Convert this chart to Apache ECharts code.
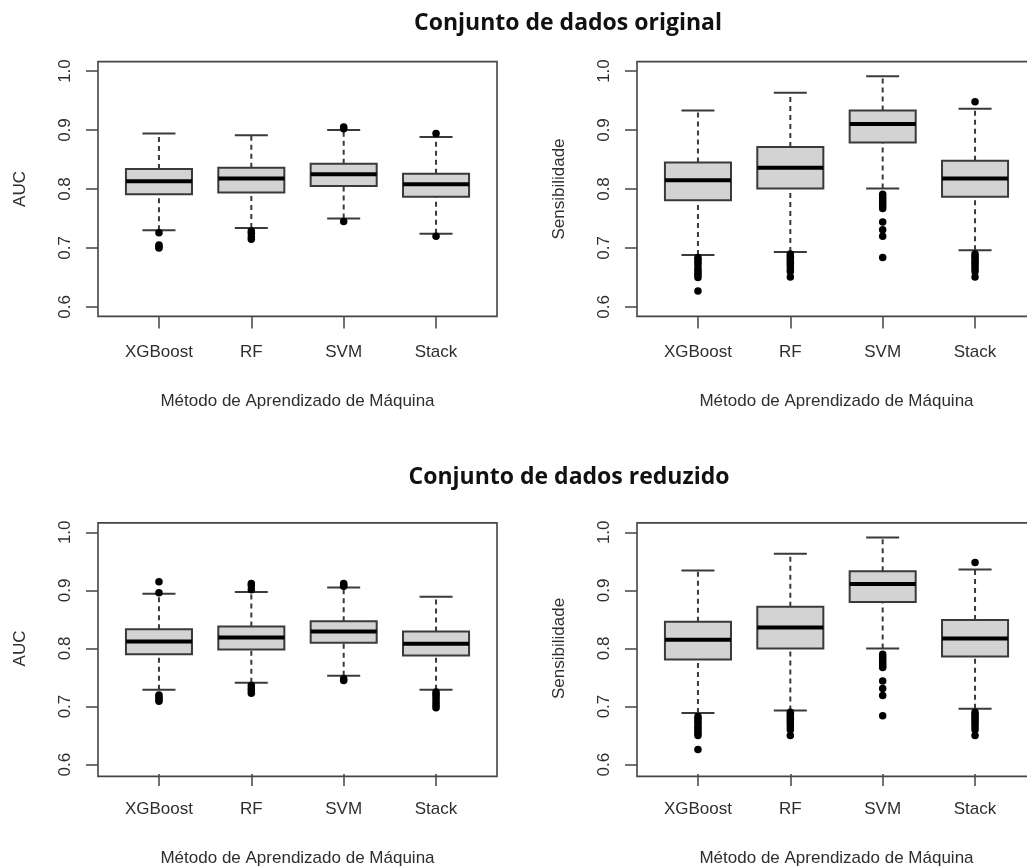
<!DOCTYPE html>
<html>
<head>
<meta charset="utf-8">
<script src="https://cdn.jsdelivr.net/npm/echarts@6/dist/echarts.min.js"></script>
<style>
  html, body { margin: 0; padding: 0; background: #ffffff; }
  #chart { width: 1027px; height: 868px; }
</style>
</head>
<body>
<div id="chart"></div>
<script>
// ---------------- DATA ----------------
const categories = ['XGBoost', 'RF', 'SVM', 'Stack'];
const yMin = 0.6, yMax = 1.0, yStep = 0.1;

const titleOriginal = 'Conjunto de dados original';
const titleReduced = 'Conjunto de dados reduzido';
const xAxisTitle = 'Método de Aprendizado de Máquina';
const yTitleAUC = 'AUC';
const yTitleSens = 'Sensibilidade';

// [lower whisker, Q1, median, Q3, upper whisker] per category
const aucOriginalStats = [
  [0.730, 0.791, 0.813, 0.834, 0.894],
  [0.734, 0.794, 0.818, 0.836, 0.891],
  [0.750, 0.805, 0.825, 0.843, 0.900],
  [0.724, 0.787, 0.808, 0.826, 0.888]
];
const aucOriginalOutliers = [
  ['XGBoost', 0.726], ['XGBoost', 0.705], ['XGBoost', 0.702], ['XGBoost', 0.700],
  ['RF', 0.729], ['RF', 0.725], ['RF', 0.719], ['RF', 0.715],
  ['SVM', 0.905], ['SVM', 0.902], ['SVM', 0.745],
  ['Stack', 0.894], ['Stack', 0.720]
];

const sensOriginalStats = [
  [0.688, 0.781, 0.815, 0.845, 0.933],
  [0.693, 0.801, 0.836, 0.871, 0.963],
  [0.801, 0.879, 0.910, 0.933, 0.991],
  [0.696, 0.787, 0.818, 0.848, 0.936]
];
const sensOriginalOutliers = [
  ['XGBoost', 0.684], ['XGBoost', 0.680], ['XGBoost', 0.676], ['XGBoost', 0.672], ['XGBoost', 0.666],
  ['XGBoost', 0.662], ['XGBoost', 0.658], ['XGBoost', 0.654], ['XGBoost', 0.650], ['XGBoost', 0.627],
  ['RF', 0.690], ['RF', 0.686], ['RF', 0.682], ['RF', 0.678], ['RF', 0.674],
  ['RF', 0.670], ['RF', 0.665], ['RF', 0.660], ['RF', 0.651],
  ['SVM', 0.791], ['SVM', 0.787], ['SVM', 0.783], ['SVM', 0.779], ['SVM', 0.775],
  ['SVM', 0.771], ['SVM', 0.767], ['SVM', 0.744], ['SVM', 0.731], ['SVM', 0.720], ['SVM', 0.684],
  ['Stack', 0.948], ['Stack', 0.690], ['Stack', 0.686], ['Stack', 0.682], ['Stack', 0.678],
  ['Stack', 0.674], ['Stack', 0.670], ['Stack', 0.665], ['Stack', 0.660], ['Stack', 0.651]
];

const aucReducedStats = [
  [0.729, 0.790, 0.812, 0.833, 0.894],
  [0.741, 0.798, 0.819, 0.838, 0.897],
  [0.753, 0.810, 0.829, 0.847, 0.905],
  [0.729, 0.788, 0.808, 0.829, 0.889]
];
const aucReducedOutliers = [
  ['XGBoost', 0.915], ['XGBoost', 0.896], ['XGBoost', 0.720], ['XGBoost', 0.716], ['XGBoost', 0.712], ['XGBoost', 0.709],
  ['RF', 0.912], ['RF', 0.908], ['RF', 0.901], ['RF', 0.736], ['RF', 0.731], ['RF', 0.727], ['RF', 0.723],
  ['SVM', 0.912], ['SVM', 0.909], ['SVM', 0.907], ['SVM', 0.748], ['SVM', 0.745],
  ['Stack', 0.725], ['Stack', 0.721], ['Stack', 0.717], ['Stack', 0.712], ['Stack', 0.707], ['Stack', 0.702], ['Stack', 0.698]
];

const sensReducedStats = [
  [0.689, 0.781, 0.815, 0.846, 0.934],
  [0.693, 0.800, 0.836, 0.872, 0.963],
  [0.800, 0.880, 0.911, 0.933, 0.991],
  [0.696, 0.786, 0.817, 0.849, 0.936]
];
const sensReducedOutliers = [
  ['XGBoost', 0.683], ['XGBoost', 0.679], ['XGBoost', 0.675], ['XGBoost', 0.671], ['XGBoost', 0.666],
  ['XGBoost', 0.662], ['XGBoost', 0.658], ['XGBoost', 0.654], ['XGBoost', 0.650], ['XGBoost', 0.626],
  ['RF', 0.690], ['RF', 0.686], ['RF', 0.682], ['RF', 0.678], ['RF', 0.674],
  ['RF', 0.670], ['RF', 0.665], ['RF', 0.660], ['RF', 0.650],
  ['SVM', 0.790], ['SVM', 0.786], ['SVM', 0.782], ['SVM', 0.778], ['SVM', 0.774],
  ['SVM', 0.770], ['SVM', 0.767], ['SVM', 0.744], ['SVM', 0.731], ['SVM', 0.719], ['SVM', 0.684],
  ['Stack', 0.948], ['Stack', 0.690], ['Stack', 0.686], ['Stack', 0.682], ['Stack', 0.678],
  ['Stack', 0.674], ['Stack', 0.670], ['Stack', 0.665], ['Stack', 0.660], ['Stack', 0.650]
];

// ---------------- LAYOUT ----------------
const FONT = '"Liberation Sans", Arial, sans-serif';
const TXT = '#2e2e2e';
const panels = [
  { stats: aucOriginalStats,  outliers: aucOriginalOutliers,  yName: yTitleAUC,  frame: { x: 98,  y: 61.6,  w: 399, h: 254.8 } },
  { stats: sensOriginalStats, outliers: sensOriginalOutliers, yName: yTitleSens, frame: { x: 637, y: 61.6,  w: 399, h: 254.8 } },
  { stats: aucReducedStats,   outliers: aucReducedOutliers,   yName: yTitleAUC,  frame: { x: 98,  y: 522.9, w: 399, h: 253.5 } },
  { stats: sensReducedStats,  outliers: sensReducedOutliers,  yName: yTitleSens, frame: { x: 637, y: 522.9, w: 399, h: 253.5 } }
];

const grids = [], xAxes = [], yAxes = [], series = [], graphics = [];

panels.forEach((p, i) => {
  const f = p.frame;
  // R-style: plot region extended 4% beyond data range on each side
  const xUnit = f.w / 4.32;
  const gLeft = f.x + 0.16 * xUnit;
  const gWidth = 4 * xUnit;
  const yUnit = f.h / 1.08;
  const gTop = f.y + 0.04 * yUnit;
  const gHeight = yUnit;
  grids.push({ left: gLeft, top: gTop, width: gWidth, height: gHeight, containLabel: false });
  xAxes.push({
    gridIndex: i, type: 'category', data: categories,
    offset: f.y + f.h - (gTop + gHeight),
    name: xAxisTitle, nameLocation: 'middle', nameGap: 76,
    nameTextStyle: { fontFamily: FONT, fontSize: 17, color: TXT },
    axisLine: { show: false },
    axisTick: { show: true, alignWithLabel: true, length: 12, lineStyle: { color: '#444', width: 1.5 } },
    axisLabel: { fontFamily: FONT, fontSize: 17, color: TXT, margin: 27 },
    splitLine: { show: false }
  });
  yAxes.push({
    gridIndex: i, type: 'value', min: yMin, max: yMax, interval: yStep,
    offset: gLeft - f.x,
    name: p.yName, nameLocation: 'middle', nameGap: 69,
    nameTextStyle: { fontFamily: FONT, fontSize: 17, color: TXT },
    axisLine: { show: false },
    axisTick: { show: true, length: 12, lineStyle: { color: '#444', width: 1.5 } },
    axisLabel: { fontFamily: FONT, fontSize: 17, color: TXT, rotate: 90, margin: 24,
      formatter: v => v.toFixed(1) },
    splitLine: { show: false }
  });
  series.push({
    type: 'custom', xAxisIndex: i, yAxisIndex: i,
    data: p.stats.map((s, k) => [categories[k]].concat(s)),
    encode: { x: 0, y: [1, 2, 3, 4, 5] },
    renderItem: function (params, api) {
      const xi = api.value(0);
      const pLW = api.coord([xi, api.value(1)]);
      const pQ1 = api.coord([xi, api.value(2)]);
      const pMed = api.coord([xi, api.value(3)]);
      const pQ3 = api.coord([xi, api.value(4)]);
      const pUW = api.coord([xi, api.value(5)]);
      const band = api.size([1, 0])[0];
      const bw = band * 0.715;
      const cx = pMed[0];
      const half = bw / 2, capHalf = bw / 4;
      const dark = '#3a3a3a';
      return {
        type: 'group',
        children: [
          { type: 'line', shape: { x1: cx, y1: pLW[1], x2: cx, y2: pQ1[1] },
            style: { stroke: dark, lineWidth: 2, lineDash: [5, 4] } },
          { type: 'line', shape: { x1: cx, y1: pQ3[1], x2: cx, y2: pUW[1] },
            style: { stroke: dark, lineWidth: 2, lineDash: [5, 4] } },
          { type: 'line', shape: { x1: cx - capHalf, y1: pLW[1], x2: cx + capHalf, y2: pLW[1] },
            style: { stroke: dark, lineWidth: 2 } },
          { type: 'line', shape: { x1: cx - capHalf, y1: pUW[1], x2: cx + capHalf, y2: pUW[1] },
            style: { stroke: dark, lineWidth: 2 } },
          { type: 'rect', shape: { x: cx - half, y: pQ3[1], width: bw, height: pQ1[1] - pQ3[1] },
            style: { fill: '#d3d3d3', stroke: dark, lineWidth: 2 } },
          { type: 'line', shape: { x1: cx - half, y1: pMed[1], x2: cx + half, y2: pMed[1] },
            style: { stroke: '#000', lineWidth: 4 } }
        ]
      };
    },
    z: 2
  });
  series.push({
    type: 'scatter', xAxisIndex: i, yAxisIndex: i,
    data: p.outliers, symbol: 'circle', symbolSize: 7.5,
    itemStyle: { color: '#000', opacity: 1 }, z: 3
  });
  graphics.push({
    type: 'rect', shape: { x: f.x, y: f.y, width: f.w, height: f.h },
    style: { fill: 'none', stroke: '#444', lineWidth: 1.6 }, z: 1, silent: true
  });
});

const TITLE_FONT = 'bold 23px "Open Sans", Lato, sans-serif';
graphics.push({
  type: 'text', x: 568, y: 23,
  style: { text: titleOriginal, font: TITLE_FONT, fill: '#111',
    textAlign: 'center', textVerticalAlign: 'middle' }
});
graphics.push({
  type: 'text', x: 569, y: 477,
  style: { text: titleReduced, font: TITLE_FONT, fill: '#111',
    textAlign: 'center', textVerticalAlign: 'middle' }
});

const chart = echarts.init(document.getElementById('chart'), null, { renderer: 'canvas' });
chart.setOption({
  animation: false,
  backgroundColor: '#ffffff',
  grid: grids,
  xAxis: xAxes,
  yAxis: yAxes,
  series: series,
  graphic: graphics
});
</script>
</body>
</html>
